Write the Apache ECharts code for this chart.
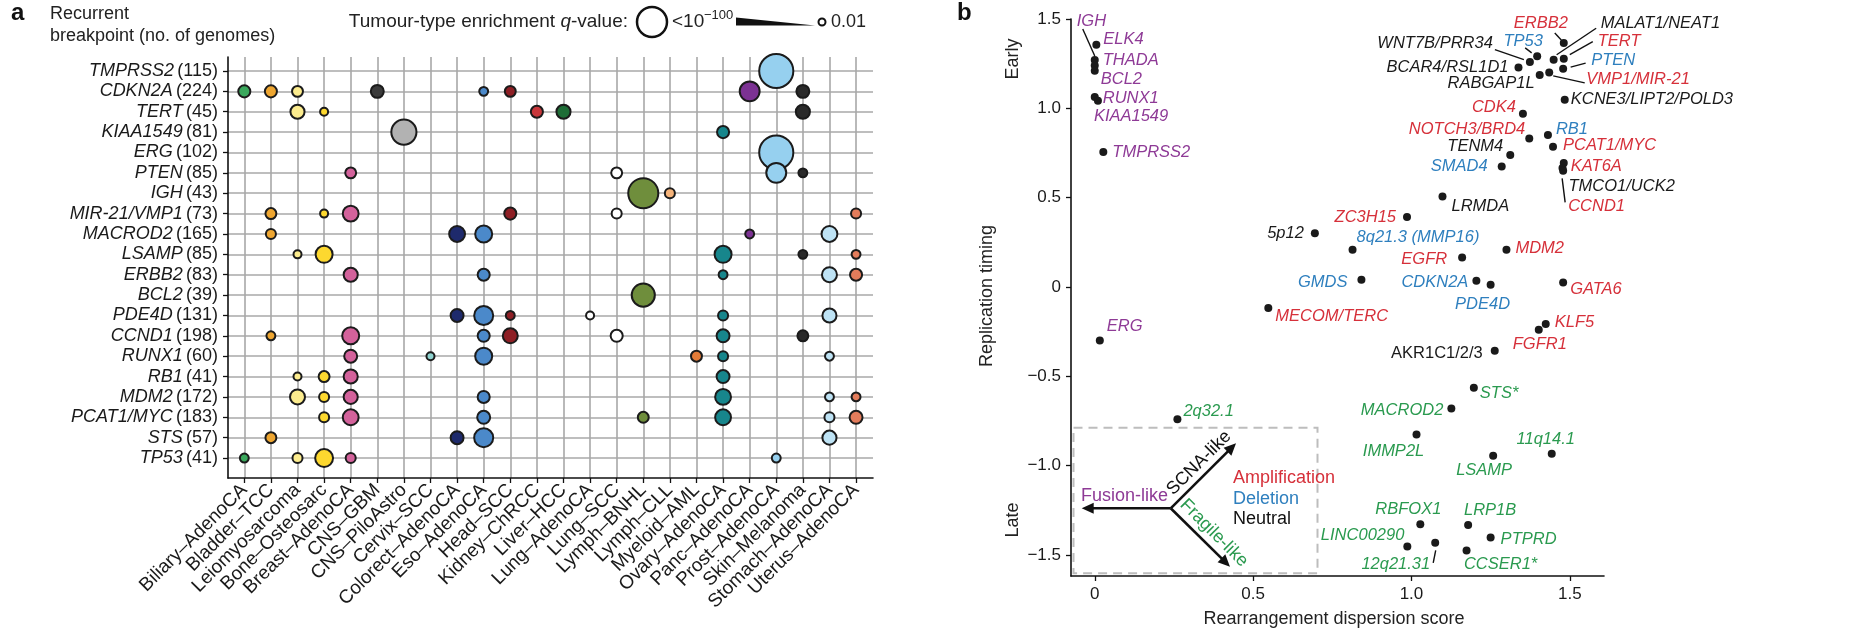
<!DOCTYPE html>
<html>
<head>
<meta charset="utf-8">
<script src="https://cdn.jsdelivr.net/npm/echarts@6.0.0/dist/echarts.min.js"></script>
<style>
html,body{margin:0;padding:0;background:#ffffff;}
#chart{width:1854px;height:634px;}
</style>
</head>
<body>
<div id="chart"></div>
<script>
// ================= DATA =================
// Panel a
const tumourTypes = ['Biliary–AdenoCA','Bladder–TCC','Leiomyosarcoma','Bone–Osteosarc','Breast–AdenoCA','CNS–GBM','CNS–PiloAstro','Cervix–SCC','Colorect–AdenoCA','Eso–AdenoCA','Head–SCC','Kidney–ChRCC','Liver–HCC','Lung–AdenoCA','Lung–SCC','Lymph–BNHL','Lymph–CLL','Myeloid–AML','Ovary–AdenoCA','Panc–AdenoCA','Prost–AdenoCA','Skin–Melanoma','Stomach–AdenoCA','Uterus–AdenoCA'];
const breakpointGenes = ['TMPRSS2','CDKN2A','TERT','KIAA1549','ERG','PTEN','IGH','MIR-21/VMP1','MACROD2','LSAMP','ERBB2','BCL2','PDE4D','CCND1','RUNX1','RB1','MDM2','PCAT1/MYC','STS','TP53'];
const genomeCounts = [115,224,45,81,102,85,43,73,165,85,83,39,131,198,60,41,172,183,57,41];
// [gene index, tumour-type index, -log10(q)]
const enrichment = [
 [0,20,97],
 [1,0,21],[1,1,21],[1,2,17],[1,5,24],[1,9,10],[1,10,17],[1,19,48],[1,21,24],
 [2,2,28],[2,3,7],[2,11,21],[2,12,28],[2,21,28],
 [3,6,66],[3,18,21],
 [4,20,97],
 [5,4,17],[5,14,17],[5,20,48],[5,21,10],
 [6,15,83],[6,16,14],
 [7,1,17],[7,3,7],[7,4,34],[7,10,21],[7,14,14],[7,23,14],
 [8,1,14],[8,8,34],[8,9,38],[8,19,10],[8,22,34],
 [9,2,7],[9,3,38],[9,18,38],[9,21,10],[9,23,10],
 [10,4,28],[10,9,21],[10,18,10],[10,22,31],[10,23,21],
 [11,15,59],
 [12,8,24],[12,9,45],[12,10,10],[12,13,7],[12,18,14],[12,22,28],
 [13,1,10],[13,4,38],[13,9,21],[13,10,31],[13,14,21],[13,18,24],[13,21,17],
 [14,4,24],[14,7,7],[14,9,38],[14,17,17],[14,18,14],[14,22,10],
 [15,2,7],[15,3,17],[15,4,28],[15,18,24],
 [16,2,31],[16,3,14],[16,4,28],[16,9,21],[16,18,34],[16,22,10],[16,23,10],
 [17,3,14],[17,4,34],[17,9,24],[17,15,17],[17,18,34],[17,22,14],[17,23,24],
 [18,1,17],[18,8,24],[18,9,45],[18,22,28],
 [19,0,10],[19,2,14],[19,3,41],[19,4,14],[19,20,10]
];

// Panel b
const rdGenes = ['IGH','ELK4','THADA','BCL2','RUNX1','KIAA1549','TMPRSS2','ERG','5p12','ZC3H15','8q21.3 (MMP16)','GMDS','MECOM/TERC','EGFR','MDM2','CDKN2A','PDE4D','GATA6','KLF5','FGFR1','AKR1C1/2/3','LRMDA','SMAD4','TENM4','NOTCH3/BRD4','RB1','PCAT1/MYC','KAT6A','TMCO1/UCK2','CCND1','CDK4','KCNE3/LIPT2/POLD3','RABGAP1L','BCAR4/RSL1D1','WNT7B/PRR34','TP53','VMP1/MIR-21','MALAT1/NEAT1','TERT','PTEN','ERBB2','STS*','MACROD2','IMMP2L','LSAMP','11q14.1','2q32.1','RBFOX1','LRP1B','PTPRD','LINC00290','12q21.31','CCSER1*'];
const rdScore = [0.00,0.005,0.00,0.00,0.00,0.01,0.027,0.016,0.695,0.986,0.814,0.842,0.548,1.160,1.300,1.205,1.250,1.479,1.424,1.402,1.263,1.098,1.285,1.312,1.372,1.431,1.447,1.481,1.477,1.479,1.352,1.484,1.405,1.338,1.374,1.397,1.435,1.449,1.481,1.479,1.481,1.197,1.126,1.016,1.258,1.443,0.261,1.028,1.179,1.250,0.987,1.075,1.174];
const rdTiming = [1.27,1.356,1.24,1.21,1.063,1.042,0.755,-0.30,0.30,0.391,0.208,0.040,-0.118,0.165,0.208,0.035,0.012,0.025,-0.208,-0.240,-0.357,0.507,0.675,0.738,0.831,0.850,0.785,0.694,0.666,0.650,0.970,1.048,1.186,1.229,1.259,1.291,1.201,1.272,1.278,1.222,1.366,-0.564,-0.680,-0.826,-0.945,-0.934,-0.740,-1.328,-1.333,-1.403,-1.453,-1.432,-1.475];
const rdClass = ['fusion','fusion','fusion','fusion','fusion','fusion','fusion','fusion','neutral','amp','del','del','amp','amp','amp','del','del','amp','amp','amp','neutral','neutral','del','neutral','amp','del','amp','amp','neutral','amp','amp','neutral','neutral','neutral','neutral','del','amp','neutral','amp','del','amp','fragile','fragile','fragile','fragile','fragile','fragile','fragile','fragile','fragile','fragile','fragile','fragile'];

const timingTicks = [-1.5,-1,-0.5,0,0.5,1,1.5];
const scoreTicks = [0,0.5,1,1.5];

// ================= STYLE =================
const FONT = '"Liberation Sans", Arial, Helvetica, sans-serif';
const typeColors = ['#3aa85c','#eea631','#fcec8e','#fdd82f','#d3629b','#3b3b3b','#b2b2b2','#8fd3d0','#1e2a6c','#4b89ca','#8e1f25','#c8373b','#1e6d36','#ffffff','#ffffff','#6f8e3c','#f5b37a','#e27b38','#17868c','#7c3293','#96d0ef','#2a2a2a','#bee3f5','#e37c5b'];
const classColors = {fusion:'#8e3a96', amp:'#d6303a', del:'#2e7fbe', neutral:'#1a1a1a', fragile:'#2a9a4f'};
function qSize(v){ return 6 + 0.29 * Math.min(v, 100); }

// label placement [anchor, dx, dy]
const labelPlacement = {
 'IGH':['l',-18,-39],'ELK4':['l',7,-5],'THADA':['l',8,-5],'BCL2':['l',6,9],'RUNX1':['l',8,1],
 'KIAA1549':['l',-4,16],'TMPRSS2':['l',9,0],'ERG':['l',7,-14],'5p12':['r',-11,0],'MECOM/TERC':['l',7,8],
 '2q32.1':['l',6,-8],'ERBB2':['c',-23,-20],'TP53':['c',-14,-15],'WNT7B/PRR34':['r',-37,-19],
 'BCAR4/RSL1D1':['r',-10,0],'RABGAP1L':['r',-5,8],'VMP1/MIR-21':['l',37,7],'MALAT1/NEAT1':['l',47,-36],
 'TERT':['l',34,-17],'PTEN':['l',28,-8],'KCNE3/LIPT2/POLD3':['l',6,0],'CDK4':['r',-7,-6],
 'NOTCH3/BRD4':['r',-4,-9],'RB1':['l',8,-6],'PCAT1/MYC':['l',10,-1],'TENM4':['r',-7,-9],'SMAD4':['r',-14,0],
 'KAT6A':['l',7,3],'TMCO1/UCK2':['l',6,18],'CCND1':['l',5,36],'LRMDA':['l',9,10],'ZC3H15':['r',-11,0],
 '8q21.3 (MMP16)':['l',4,-12],'MDM2':['l',9,-1],'EGFR':['r',-15,2],'GMDS':['r',-14,3],'CDKN2A':['r',-8,2],
 'PDE4D':['c',-8,20],'GATA6':['l',7,7],'KLF5':['l',9,-2],'FGFR1':['c',1,15],'AKR1C1/2/3':['r',-12,3],
 'STS*':['l',6,6],'MACROD2':['r',-8,2],'IMMP2L':['c',-23,17],'LSAMP':['c',-9,15],'11q14.1':['c',-6,-14],
 'RBFOX1':['c',-12,-15],'LRP1B':['c',22,-15],'PTPRD':['l',10,2],'LINC00290':['r',-3,-11],
 '12q21.31':['r',-5,22],'CCSER1*':['c',34,14]
};
// leader lines, relative to the point: [startDx, startDy, endDx, endDy]
const leaderLines = {
 'IGH':[-12,-31,0,-4], 'ERBB2':[-9,-10,-2.5,-3], 'TP53':[-12,-8.5,-5.5,-3.5], 'WNT7B/PRR34':[-35,-12.5,-6,-2.5],
 'MALAT1/NEAT1':[42.5,-31.5,3,-5], 'TERT':[29,-17,6,-4], 'PTEN':[22.5,-5.5,7.5,-1.5], 'VMP1/MIR-21':[4,3.5,35.5,10.5],
 'CCND1':[-1,7.5,2,31.5], '12q21.31':[-2,20,0.5,7.5]
};
const alignMap = {l:'left', r:'right', c:'center'};

// ================= BUILD =================
const rowIdx = breakpointGenes.map((g,i)=>i);
const colIdx = tumourTypes.map((t,i)=>i);

const bubbleData = enrichment.slice().sort((a,b)=>b[2]-a[2]).map(e => ({
  value:[e[1], e[0], e[2]],
  itemStyle:{color: typeColors[e[1]]}
}));

const DOT = 8;
const pointData = rdGenes.map((g,i) => {
  const p = labelPlacement[g] || ['l',6,0];
  return {
    name:g,
    value:[rdScore[i], rdTiming[i]],
    label:{
      show:true,
      formatter:g,
      position:[DOT/2 + p[1], DOT/2 + p[2]],
      align:alignMap[p[0]],
      verticalAlign:'middle',
      color:classColors[rdClass[i]],
      fontStyle: g === 'AKR1C1/2/3' ? 'normal' : 'italic',
      fontSize:16.5,
      fontFamily:FONT
    }
  };
});

const axisTextB = {color:'#1a1a1a', fontFamily:FONT, fontSize:17};

function arrowHead(cx, cy, tx, ty){
  const dx = tx-cx, dy = ty-cy, len = Math.hypot(dx,dy);
  const ux = dx/len, uy = dy/len, nx = -uy, ny = ux;
  const L = 12, W = 5.5;
  const bx = tx-ux*L, by = ty-uy*L;
  return {
    line:{type:'line', shape:{x1:cx,y1:cy,x2:bx+ux*2,y2:by+uy*2}, style:{stroke:'#111', lineWidth:2.6}},
    head:{type:'polygon', shape:{points:[[tx,ty],[bx+nx*W,by+ny*W],[bx-nx*W,by-ny*W]]}, style:{fill:'#111'}}
  };
}
const C = [1170.7, 508.3];
const aF = arrowHead(C[0],C[1],1081.7,508.3);
const aS = arrowHead(C[0],C[1],1236,443.3);
const aG = arrowHead(C[0],C[1],1230,566.7);

const legendY = 22;
const graphics = [
  // panel a header
  {type:'text', x:11, y:13, style:{text:'a', font:'bold 24px '+FONT, fill:'#111', verticalAlign:'middle'}},
  {type:'text', x:50, y:14.5, style:{text:'Recurrent', font:'18px '+FONT, fill:'#222', verticalAlign:'middle'}},
  {type:'text', x:50, y:36.5, style:{text:'breakpoint (no. of genomes)', font:'18px '+FONT, fill:'#222', verticalAlign:'middle'}},
  // size legend
  {type:'text', x:628, y:legendY, style:{text:'{n|Tumour-type enrichment }{i|q}{n|-value:}', align:'right', verticalAlign:'middle',
     rich:{n:{font:'19px '+FONT, fill:'#222'}, i:{font:'italic 19px '+FONT, fill:'#222'}}}},
  {type:'circle', shape:{cx:652, cy:legendY, r:15}, style:{fill:'#fff', stroke:'#111', lineWidth:2.5}},
  {type:'text', x:672, y:legendY, style:{text:'<10', font:'19px '+FONT, fill:'#222', verticalAlign:'middle'}},
  {type:'text', x:704, y:legendY-7, style:{text:'−100', font:'13px '+FONT, fill:'#222', verticalAlign:'middle'}},
  {type:'polygon', shape:{points:[[736,legendY-4.5],[815,legendY+3.5],[736,legendY+3.5]]}, style:{fill:'#111'}},
  {type:'circle', shape:{cx:822, cy:legendY, r:3.5}, style:{fill:'#fff', stroke:'#111', lineWidth:2}},
  {type:'text', x:831, y:legendY, style:{text:'0.01', font:'18px '+FONT, fill:'#222', verticalAlign:'middle'}},
  // panel b header & axis titles
  {type:'text', x:957, y:13.5, style:{text:'b', font:'bold 24px '+FONT, fill:'#111', verticalAlign:'middle'}},
  {type:'text', x:987, y:296, rotation:Math.PI/2, style:{text:'Replication timing', font:'18px '+FONT, fill:'#222', align:'center', verticalAlign:'middle'}},
  {type:'text', x:1013, y:59, rotation:Math.PI/2, style:{text:'Early', font:'18px '+FONT, fill:'#222', align:'center', verticalAlign:'middle'}},
  {type:'text', x:1013, y:520, rotation:Math.PI/2, style:{text:'Late', font:'18px '+FONT, fill:'#222', align:'center', verticalAlign:'middle'}},
  {type:'text', x:1334, y:619, style:{text:'Rearrangement dispersion score', font:'18px '+FONT, fill:'#222', align:'center', verticalAlign:'middle'}},
  // inset legend
  {type:'rect', shape:{x:1073.5, y:427.7, width:244, height:145.6}, style:{fill:'none', stroke:'#bdbdbd', lineWidth:2, lineDash:[9,6]}},
  aF.line, aF.head, aS.line, aS.head, aG.line, aG.head,
  {type:'text', x:1081, y:496, style:{text:'Fusion-like', font:'18px '+FONT, fill:'#8e3a96', verticalAlign:'middle'}},
  {type:'text', x:1199, y:463, rotation:Math.PI/4, style:{text:'SCNA-like', font:'18px '+FONT, fill:'#111', align:'center', verticalAlign:'middle'}},
  {type:'text', x:1214, y:533, rotation:-Math.PI/4, style:{text:'Fragile-like', font:'18px '+FONT, fill:'#2a9a4f', align:'center', verticalAlign:'middle'}},
  {type:'text', x:1233, y:478, style:{text:'Amplification', font:'18px '+FONT, fill:'#d6303a', verticalAlign:'middle'}},
  {type:'text', x:1233, y:499, style:{text:'Deletion', font:'18px '+FONT, fill:'#2e7fbe', verticalAlign:'middle'}},
  {type:'text', x:1233, y:519.5, style:{text:'Neutral', font:'18px '+FONT, fill:'#111', verticalAlign:'middle'}}
];

const chart = echarts.init(document.getElementById('chart'), null, {renderer:'canvas'});
chart.setOption({
  animation:false,
  backgroundColor:'#ffffff',
  textStyle:{fontFamily:FONT},
  grid:[
    {left:228, top:57, width:645, height:421},
    {left:1071, top:19, width:533, height:557}
  ],
  xAxis:[
    {type:'value', gridIndex:0, min:-0.613, max:23.637,
     axisLine:{onZero:false, lineStyle:{color:'#111', width:1.6}},
     axisTick:{show:true, length:5, customValues:colIdx, lineStyle:{color:'#111', width:1.3}},
     axisLabel:{customValues:colIdx, rotate:45, margin:9, interval:0, hideOverlap:false, showMinLabel:true, showMaxLabel:true,
       formatter:v=>tumourTypes[Math.round(v)], color:'#1a1a1a', fontFamily:FONT, fontSize:19},
     splitLine:{show:true, lineStyle:{color:'#a8a8a8', width:1.6}}},
    {type:'value', gridIndex:1, min:-0.075, max:1.608,
     axisLine:{onZero:false, lineStyle:{color:'#111', width:1.6}},
     axisTick:{show:true, length:5, customValues:scoreTicks, lineStyle:{color:'#111', width:1.3}},
     axisLabel:{customValues:scoreTicks, margin:10, formatter:v=>v===0?'0':v.toFixed(1), ...axisTextB},
     splitLine:{show:false}}
  ],
  yAxis:[
    {type:'value', gridIndex:0, inverse:true, min:-0.687, max:19.98,
     axisLine:{onZero:false, lineStyle:{color:'#111', width:1.6}},
     axisTick:{show:true, length:5, customValues:rowIdx, lineStyle:{color:'#111', width:1.3}},
     axisLabel:{customValues:rowIdx, margin:10, interval:0, hideOverlap:false,
       formatter:v=>{const i=Math.round(v); return '{g|'+breakpointGenes[i]+'} {n|('+genomeCounts[i]+')}';},
       rich:{g:{fontStyle:'italic', fontSize:18, fontFamily:FONT, color:'#1a1a1a'}, n:{fontSize:18, fontFamily:FONT, color:'#1a1a1a'}}},
     splitLine:{show:true, lineStyle:{color:'#a8a8a8', width:1.6}}},
    {type:'value', gridIndex:1, min:-1.618, max:1.5,
     axisLine:{onZero:false, lineStyle:{color:'#111', width:1.6}},
     axisTick:{show:true, length:5, customValues:timingTicks, lineStyle:{color:'#111', width:1.3}},
     axisLabel:{customValues:timingTicks, margin:10, formatter:v=>v===0?'0':(v<0?'−':'')+Math.abs(v).toFixed(1), ...axisTextB},
     splitLine:{show:false}}
  ],
  series:[
    {type:'scatter', xAxisIndex:0, yAxisIndex:0, data:bubbleData,
     symbolSize:d=>qSize(d[2]),
     itemStyle:{borderColor:'#1b1b1b', borderWidth:2, opacity:1},
     emphasis:{disabled:true}, silent:true, z:3},
    {type:'scatter', xAxisIndex:1, yAxisIndex:1, data:pointData, symbolSize:DOT,
     itemStyle:{color:'#1a1a1a', opacity:1},
     emphasis:{disabled:true}, silent:true, z:3}
  ],
  graphic:graphics
});

// leader lines anchored to the data points through the axis scales
const leaders = [];
rdGenes.forEach((g,i) => {
  const L = leaderLines[g];
  if (!L) return;
  const p = chart.convertToPixel({xAxisIndex:1, yAxisIndex:1}, [rdScore[i], rdTiming[i]]);
  leaders.push({type:'line', shape:{x1:p[0]+L[0], y1:p[1]+L[1], x2:p[0]+L[2], y2:p[1]+L[3]},
    style:{stroke:'#111', lineWidth:1.4}, z:10});
});
chart.setOption({graphic: graphics.concat(leaders)});
</script>
</body>
</html>
